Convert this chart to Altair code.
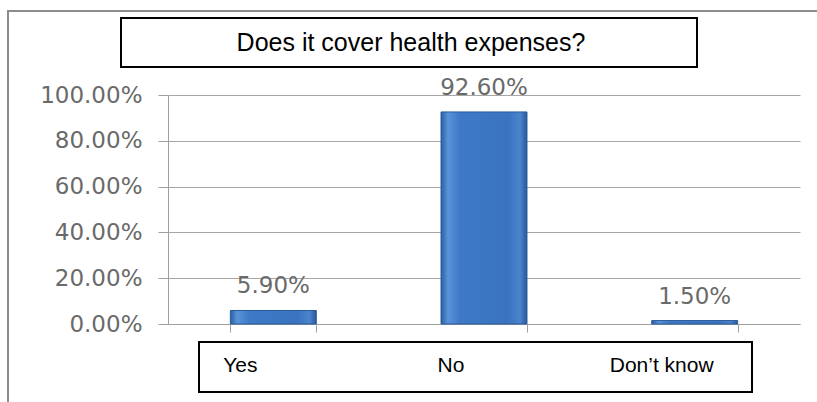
import altair as alt
import pandas as pd

# ---- data ----
categories = ["Yes", "No", "Don’t know"]
shares = [0.059, 0.926, 0.015]
share_labels = ["5.90%", "92.60%", "1.50%"]
y_ticks = [0, 0.2, 0.4, 0.6, 0.8, 1.0]
title_text = "Does it cover health expenses?"

df = pd.DataFrame({"cat": categories, "share": shares, "label": share_labels})
one = pd.DataFrame({"k": [0]})

PW, PH = 632, 229          # plot area
PAD_L, PAD_T = 168, 95

xscale = alt.Scale(domain=categories, paddingInner=0.592, paddingOuter=0.296)
yscale = alt.Scale(domain=[0, 1])

bar_fill = alt.Gradient(
    gradient="linear", x1=0, x2=1, y1=0, y2=0,
    stops=[
        alt.GradientStop(color="#2b5fa3", offset=0),
        alt.GradientStop(color="#5a93d9", offset=0.08),
        alt.GradientStop(color="#3d79c7", offset=0.22),
        alt.GradientStop(color="#3a74c0", offset=0.78),
        alt.GradientStop(color="#4a84cc", offset=0.92),
        alt.GradientStop(color="#28579a", offset=1),
    ],
)

# outer chart border (runs off the right and bottom edges)
outer = alt.Chart(one).mark_rect(filled=False, stroke="#8c8c8c", strokeWidth=2).encode(
    x=alt.value(-160), x2=alt.value(656), y=alt.value(-84), y2=alt.value(313)
)

bars = alt.Chart(df).mark_bar(fill=bar_fill, stroke="#2a5a99", strokeWidth=1).encode(
    x=alt.X("cat:N", scale=xscale, sort=categories,
            axis=alt.Axis(title=None, labels=False, tickBand="extent", tickSize=8,
                          tickColor="#a0a0a0", domainColor="#a0a0a0", grid=False)),
    y=alt.Y("share:Q", scale=yscale,
            axis=alt.Axis(title=None, values=y_ticks, format=".2%", labelFontSize=23,
                          labelFont="DejaVu Sans", labelColor="#6a6a6a", tickSize=10,
                          tickColor="#a0a0a0", domainColor="#a0a0a0", gridColor="#a6a6a6",
                          labelPadding=16)),
)

value_text = alt.Chart(df).mark_text(
    font="DejaVu Sans", fontSize=23, color="#6a6a6a", baseline="alphabetic", dy=-17
).encode(
    x=alt.X("cat:N", scale=xscale, sort=categories),
    y=alt.Y("share:Q", scale=yscale),
    text="label:N",
)

# title box
title_box = alt.Chart(one).mark_rect(fill="white", stroke="black", strokeWidth=2).encode(
    x=alt.value(121 - PAD_L), x2=alt.value(697 - PAD_L),
    y=alt.value(18 - PAD_T), y2=alt.value(67 - PAD_T),
)
title_txt = alt.Chart(pd.DataFrame({"t": [title_text]})).mark_text(
    font="Liberation Sans", fontSize=25, color="black", baseline="middle", align="center"
).encode(x=alt.value(411 - PAD_L), y=alt.value(43 - PAD_T), text="t:N")

# category label box
cat_box = alt.Chart(one).mark_rect(fill="white", stroke="black", strokeWidth=2).encode(
    x=alt.value(199 - PAD_L), x2=alt.value(752 - PAD_L),
    y=alt.value(342 - PAD_T), y2=alt.value(392 - PAD_T),
)
cat_txt = alt.Chart(df).mark_text(
    font="Liberation Sans", fontSize=21, color="black", baseline="middle", align="center", dx=-33
).encode(
    x=alt.X("cat:N", scale=xscale, sort=categories),
    y=alt.value(366 - PAD_T),
    text="cat:N",
)

chart = alt.layer(outer, bars, value_text, title_box, title_txt, cat_box, cat_txt).properties(
    width=PW, height=PH,
    padding={"left": PAD_L, "top": PAD_T, "right": 817 - PAD_L - PW, "bottom": 402 - PAD_T - PH},
    autosize=alt.AutoSizeParams(type="none"),
    background="white",
).configure_view(stroke=None)

chart.save("out.html", embed_options={"renderer": "svg", "actions": False})
